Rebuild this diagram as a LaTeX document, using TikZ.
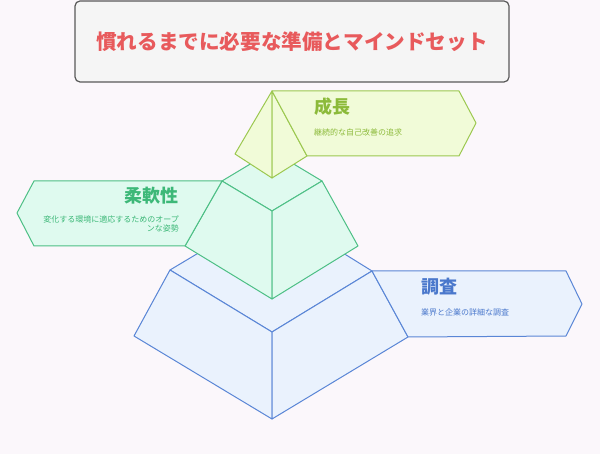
\documentclass[tikz,border=0pt]{standalone}
\usepackage{fontspec}
\setmainfont{Noto Sans CJK JP}
\usepackage{tikz}
\definecolor{bgc}{HTML}{FBF7FB}
\definecolor{titlered}{HTML}{E85A5C}
\definecolor{blueline}{HTML}{5A86D6}
\definecolor{bluefill}{HTML}{EAF2FD}
\definecolor{bluetext}{HTML}{4A78CC}
\definecolor{greenline}{HTML}{4DBF85}
\definecolor{greenfill}{HTML}{DFFAEF}
\definecolor{greentext}{HTML}{3DB878}
\definecolor{yelline}{HTML}{9CC850}
\definecolor{yelfill}{HTML}{F1FBD8}
\definecolor{yeltext}{HTML}{8CBA3A}

\tikzset{
  tier/.style={line width=1pt, line join=round},
  head/.style={font=\fontsize{18}{20}\selectfont\bfseries, inner sep=0pt},
  desc/.style={font=\fontsize{8}{9}\selectfont, inner sep=0pt}
}

\begin{document}
\begin{tikzpicture}[x=1pt, y=-1pt]
\fill[bgc] (0,0) rectangle (600,454);
\useasboundingbox (0,0) rectangle (600,454);

% title
\node[draw=black!65, fill=black!4, line width=1.2pt, rounded corners=5pt,
      minimum width=434pt, minimum height=81pt] (T) at (292,41.5) {};
\node[text=titlered, font=\fontsize{20.6}{22}\selectfont\bfseries] (TT) at (T.center) {慣れるまでに必要な準備とマインドセット};

\begin{scope}[tier, draw=blueline, fill=bluefill]
    \coordinate (K) at (272,209);
    \coordinate (L) at (170,270);
    \coordinate (R) at (372,271);
    \coordinate (F) at (272,332);
    \coordinate (Lb) at (134,336);
    \coordinate (Fb) at (272,419);
    \coordinate (Rb) at (408,337);
    \filldraw (L) -- (K) -- (R) -- (F) -- cycle;
    \filldraw (L) -- (F) -- (Fb) -- (Lb) -- cycle;
    \filldraw (F) -- (R) -- (Rb) -- (Fb) -- cycle;
    \filldraw (R) -- (566,271) -- (582,304) -- (566,336) -- (Rb) -- cycle;
\end{scope}
\node[head, text=bluetext, anchor=west] (H1) at (421,287) {調査};
\node[desc, text=bluetext, anchor=west] (D1) at (421,312) {業界と企業の詳細な調査};

\begin{scope}[tier, draw=greenline, fill=greenfill]
    \coordinate (k) at (272,151);
    \coordinate (l) at (222,181);
    \coordinate (r) at (322,181);
    \coordinate (f) at (272,211);
    \coordinate (lb) at (185,246);
    \coordinate (fb) at (272,299);
    \coordinate (rb) at (358,246);
    \filldraw (l) -- (k) -- (r) -- (f) -- cycle;
    \filldraw (l) -- (f) -- (fb) -- (lb) -- cycle;
    \filldraw (f) -- (r) -- (rb) -- (fb) -- cycle;
    \filldraw (l) -- (34,181) -- (17,213) -- (34,246) -- (lb) -- cycle;
\end{scope}
\node[head, text=greentext, anchor=east] (H2) at (179,196) {柔軟性};
\node[desc, text=greentext, anchor=north east, align=right] (D2) at (179,216) {変化する環境に適応するためのオープ\\ンな姿勢};

\begin{scope}[tier, draw=yelline, fill=yelfill]
    \coordinate (A) at (272,91);
    \coordinate (P) at (235,154);
    \coordinate (Q) at (272,178);
    \coordinate (S) at (307,156);
    \filldraw (A) -- (P) -- (Q) -- cycle;
    \filldraw (A) -- (Q) -- (S) -- cycle;
    \filldraw (A) -- (459,91) -- (476,123) -- (459,156) -- (S) -- cycle;
\end{scope}
\node[head, text=yeltext, anchor=west] (H3) at (314,107) {成長};
\node[desc, text=yeltext, anchor=west] (D3) at (314,132) {継続的な自己改善の追求};
\end{tikzpicture}
\end{document}
